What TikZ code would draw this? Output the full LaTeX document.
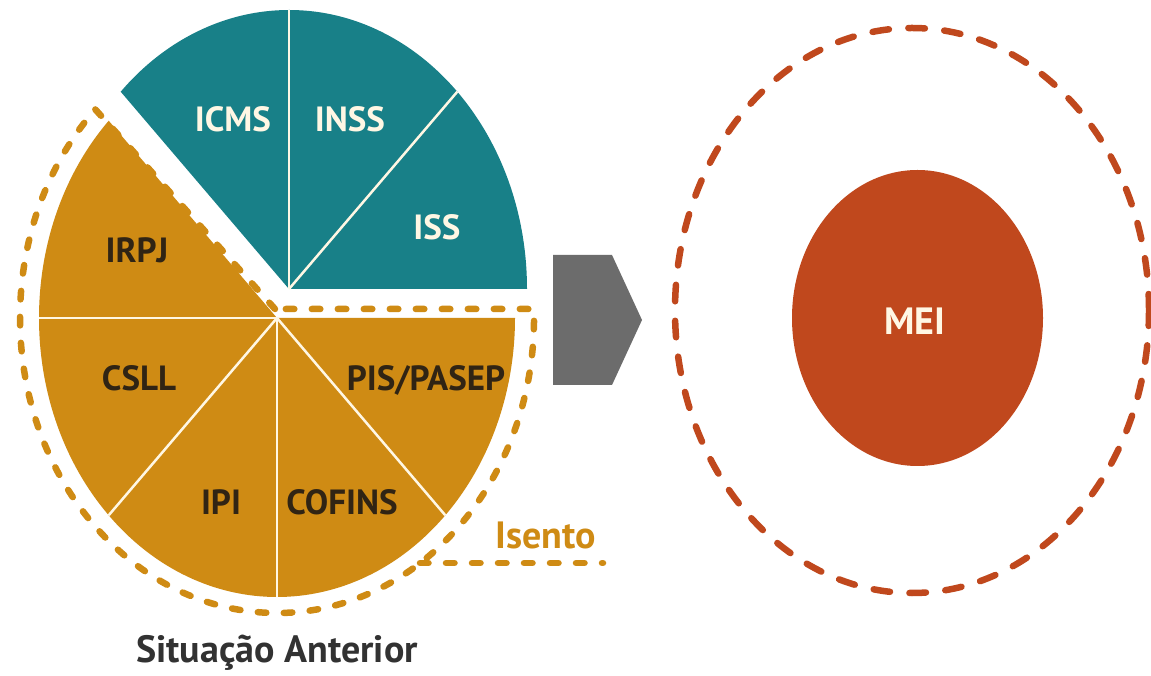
\documentclass[tikz,border=0pt]{standalone}
\usepackage{fontspec}
\setmainfont{PT Sans}
\definecolor{tealc}{RGB}{24,128,136}
\definecolor{goldc}{RGB}{207,139,20}
\definecolor{redc}{RGB}{192,72,29}
\definecolor{greyc}{RGB}{108,108,108}
\definecolor{sepc}{RGB}{255,247,228}
\definecolor{darktxt}{RGB}{48,36,20}
\definecolor{titletxt}{RGB}{50,50,50}
\newcommand{\lblfont}{\fontsize{35}{40}\selectfont\bfseries}
\begin{document}
\begin{tikzpicture}[x=1pt,y=1pt,
  sep/.style={draw=sepc, line width=2.5pt},
  goldlbl/.style={font=\lblfont, text=darktxt, anchor=base, inner sep=0pt},
  teallbl/.style={font=\lblfont, text=sepc, anchor=base, inner sep=0pt},
  golddash/.style={draw=goldc, line width=6.5pt, line cap=round, dash pattern=on 8.5pt off 17.5pt},
  reddash/.style={draw=redc, line width=6.5pt, line cap=round, dash pattern=on 16.5pt off 19.5pt}]
\useasboundingbox (0,0) rectangle (1151,675);
\fill[white] (0,0) rectangle (1151,675);

% teal (exploded) part
\coordinate (T) at (289,386);
\fill[tealc] (T) -- ++(0:238 and 279) arc[start angle=0,end angle=135,x radius=238,y radius=279] -- cycle;
\draw[sep] (T) -- ++(45:238 and 279);
\draw[sep] (T) -- ++(90:238 and 279);

% gold part
\coordinate (G) at (277,357);
\fill[goldc] (G) -- ++(135:238 and 279) arc[start angle=135,end angle=360,x radius=238,y radius=279] -- cycle;
\foreach \a in {180,225,270,315} \draw[sep] (G) -- ++(\a:238 and 279);

% dashed outline of the exempt part
\coordinate (D0) at (275,366);
\coordinate (D1) at (95.3,565.6);
\coordinate (D2) at (534,366);
\draw[golddash] (D0) -- (D1) arc[start angle=135,end angle=360,x radius=257,y radius=295] -- (D2) -- cycle;
\coordinate (IsA) at (420,112);
\coordinate (IsB) at (603,112);
\draw[golddash] (IsA) -- (IsB);

% labels
\node[teallbl] (icms) at (233,543) {ICMS};
\node[teallbl] (inss) at (350,543) {INSS};
\node[teallbl] (iss) at (437,435) {ISS};
\node[goldlbl] (irpj) at (137,412) {IRPJ};
\node[goldlbl] (csll) at (139,284) {CSLL};
\node[goldlbl] (pis) at (426,284) {PIS/PASEP};
\node[goldlbl] (ipi) at (221,160) {IPI};
\node[goldlbl] (cofins) at (342,160) {COFINS};
\node[font=\fontsize{38}{42}\selectfont\bfseries, text=goldc, anchor=base, inner sep=0pt] (isento) at (546,127) {Isento};
\node[font=\fontsize{38}{42}\selectfont\bfseries, text=titletxt, anchor=base, inner sep=0pt] (title) at (277,13) {Situação Anterior};

% arrow
\fill[greyc] (553,420) -- (612,420) -- (642,355) -- (612,290) -- (553,290) -- cycle;

% MEI
\draw[reddash] (912,364.5) ellipse[x radius=237, y radius=282.5];
\fill[redc] (917.5,357) ellipse[x radius=125.5, y radius=148];
\node[font=\fontsize{38}{42}\selectfont\bfseries, text=sepc, anchor=base, inner sep=0pt] (mei) at (915,340) {MEI};
\end{tikzpicture}
\end{document}
